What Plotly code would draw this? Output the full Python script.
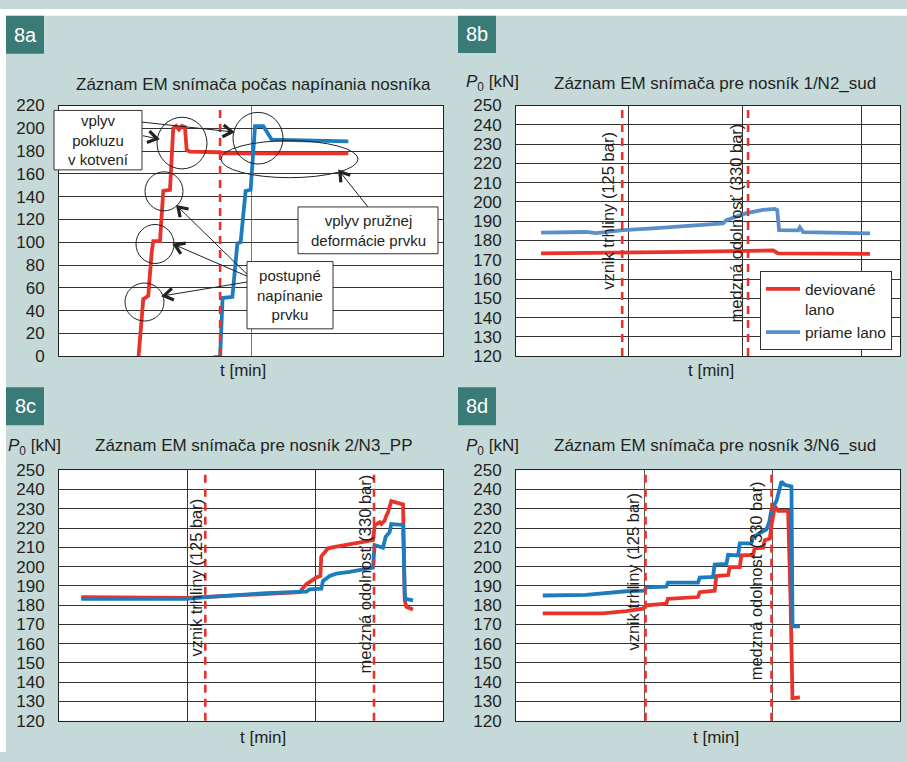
import math
import plotly.graph_objects as go

# ---------------- data ----------------
# 8a: tensioning record (x in arbitrary time units)
a_red_t = [0.366, 0.413, 0.439, 0.465, 0.483, 0.491, 0.526, 0.543, 0.578, 0.595, 0.61, 0.625, 0.64, 0.656, 0.665, 0.682, 0.839, 0.86, 1.507]
a_red_p = [-3, -3, 50, 53, 92, 101, 101, 145, 146, 200, 202, 199, 202, 201, 181, 179.5, 179, 178, 178]
a_blue_t = [0.804, 0.839, 0.852, 0.903, 0.929, 0.946, 0.972, 0.998, 1.021, 1.064, 1.108, 1.255, 1.507]
a_blue_p = [-1, -1, 51, 52, 99, 100, 145, 146, 202, 202, 190, 189.5, 188.5]
a_events = [0.839]

# 8b: beam 1/N2_sud
b_blue_t = [0.222, 0.621, 0.710, 0.947, 1.213, 1.509, 1.834, 1.864, 1.953, 2.041, 2.189, 2.293, 2.314, 2.331, 2.5, 2.515, 2.544, 3.136]
b_blue_p = [184.1, 184.4, 183.8, 185.4, 186.3, 187.4, 188.8, 190.5, 192.2, 194.2, 195.9, 196.4, 195.8, 185.4, 185.2, 186.8, 184.3, 183.7]
b_red_t = [0.222, 0.917, 1.509, 2.278, 2.322, 3.136]
b_red_p = [173.3, 173.6, 174.1, 174.8, 173.3, 173.0]
b_events = [0.941, 2.056]

# 8c: beam 2/N3_PP
c_blue_t = [0.174, 0.995, 1.151, 1.359, 1.620, 1.932, 1.958, 2.049, 2.063, 2.115, 2.167, 2.271, 2.453, 2.466, 2.531, 2.552, 2.583, 2.596, 2.688, 2.701, 2.708, 2.766]
c_blue_p = [183.3, 183.3, 184.2, 185.3, 186.2, 187.0, 188.2, 188.5, 192.6, 195.1, 196.3, 197.3, 199.4, 211.2, 209.8, 215.4, 217.9, 222.1, 221.6, 185.8, 183.3, 182.5]
c_red_t = [0.174, 0.995, 1.880, 1.932, 2.010, 2.042, 2.049, 2.102, 2.167, 2.271, 2.453, 2.466, 2.505, 2.518, 2.544, 2.557, 2.570, 2.596, 2.688, 2.701, 2.714, 2.766]
c_red_p = [184.2, 183.8, 186.7, 190.9, 194.3, 195.1, 205.3, 209.5, 210.3, 211.5, 213.7, 221.3, 223.0, 222.1, 223.8, 226.4, 228.1, 234.0, 232.3, 182.5, 179.1, 177.7]
c_events = [1.143, 2.461]

# 8d: beam 3/N6_sud
d_blue_t = [0.209, 0.548, 0.861, 1.004, 1.017, 1.174, 1.187, 1.422, 1.435, 1.539, 1.552, 1.644, 1.657, 1.735, 1.748, 1.839, 1.852, 1.957, 1.978, 1.996, 2.035, 2.074, 2.100, 2.152, 2.160, 2.165, 2.218]
d_blue_p = [185.0, 185.3, 187.2, 187.5, 189.2, 189.6, 191.7, 191.7, 194.3, 194.6, 201.0, 201.4, 206.1, 205.8, 212.0, 212.0, 215.4, 219.3, 223.0, 229.7, 234.0, 244.1, 242.4, 241.6, 170.6, 169.0, 169.0]
d_red_t = [0.209, 0.678, 0.861, 0.991, 1.017, 1.174, 1.187, 1.422, 1.435, 1.552, 1.565, 1.657, 1.670, 1.748, 1.761, 1.852, 1.865, 1.931, 1.944, 1.983, 1.996, 2.022, 2.048, 2.126, 2.145, 2.160, 2.218]
d_red_p = [175.7, 175.7, 176.9, 178.2, 179.9, 180.8, 183.3, 184.2, 186.7, 187.5, 195.1, 195.6, 199.7, 199.7, 205.8, 206.1, 209.5, 209.8, 213.7, 214.5, 221.3, 231.4, 228.9, 228.9, 182.5, 131.8, 132.2]
d_events = [1.012, 1.996]

titles = ["Záznam EM snímača počas napínania nosníka",
          "Záznam EM snímača pre nosník 1/N2_sud",
          "Záznam EM snímača pre nosník 2/N3_PP",
          "Záznam EM snímača pre nosník 3/N6_sud"]
panel_labels = ["8a", "8b", "8c", "8d"]
legend_names = ["deviované<br>lano", "priame lano"]
event_labels = ["vznik trhliny (125 bar)", "medzná odolnosť (330 bar)"]

# ---------------- layout helpers ----------------
W, H = 907, 762
def fx(px):
    return px / W
def fy(py):
    return 1 - py / H

RED = "#e9332a"
BLUE = "#1b7cc0"
BLUE_B = "#5b8fca"
BG = "#c6d9d9"
TEAL = "#3a7b78"
FONT = "Liberation Sans, Arial, sans-serif"
TXT = "#231f20"

fig = go.Figure()

panels = [
    ("x", "y", (59, 443), (99, 356), [0, 2], [1], [0, 220], 20, "#7a7a7a"),
    ("x2", "y2", (516, 900), (99, 356), [0, 3.402], [1.0, 2.006, 3.062], [120, 250], 10, "#333333"),
    ("x3", "y3", (59, 443), (473, 730), [0, 3], [1, 2], [120, 250], 10, "#333333"),
    ("x4", "y4", (516, 900), (473, 730), [0, 3], [1, 2], [120, 250], 10, "#555555"),
]

for i, (xn, yn, (x0, x1), (y0, y1), xr, vg, yr, dt, vgc) in enumerate(panels):
    xk = "xaxis" if i == 0 else f"xaxis{i+1}"
    yk = "yaxis" if i == 0 else f"yaxis{i+1}"
    fig.layout[xk] = dict(domain=[fx(x0), fx(x1)], range=xr, anchor=yn,
                          tickvals=vg, showticklabels=False, ticks="",
                          showgrid=True, gridcolor=vgc, gridwidth=1,
                          zeroline=False, showline=True, linecolor="#222",
                          linewidth=1, mirror=True, fixedrange=True)
    fig.layout[yk] = dict(domain=[fy(y1), fy(y0)], range=yr, anchor=xn,
                          dtick=dt, tick0=0, showgrid=True, gridcolor="#333333",
                          gridwidth=1, zeroline=False, showline=True,
                          linecolor="#222", linewidth=1, mirror=True, ticks="",
                          tickfont=dict(size=17, color=TXT, family=FONT),
                          ticklabelstandoff=10, fixedrange=True)

def line(xs, ys, color, xa, ya, name=None, show=False):
    fig.add_trace(go.Scatter(x=xs, y=ys, mode="lines", xaxis=xa, yaxis=ya,
                             line=dict(color=color, width=3.8),
                             name=name, showlegend=show, hoverinfo="skip"))

line(a_red_t, a_red_p, RED, "x", "y")
line(a_blue_t, a_blue_p, BLUE, "x", "y")
line(b_red_t, b_red_p, RED, "x2", "y2", legend_names[0], True)
line(b_blue_t, b_blue_p, BLUE_B, "x2", "y2", legend_names[1], True)
line(c_red_t, c_red_p, RED, "x3", "y3")
line(c_blue_t, c_blue_p, BLUE, "x3", "y3")
line(d_red_t, d_red_p, RED, "x4", "y4")
line(d_blue_t, d_blue_p, BLUE, "x4", "y4")

shapes = []
# white frame strips (top and left)
shapes.append(dict(type="rect", xref="paper", yref="paper", x0=0, x1=1, y0=fy(7), y1=1,
                   fillcolor="white", line=dict(width=0), layer="above"))
shapes.append(dict(type="rect", xref="paper", yref="paper", x0=0, x1=fx(6), y0=0, y1=1,
                   fillcolor="white", line=dict(width=0), layer="above"))

# event dashed lines
for evs, xa, ya in [(a_events, "x", "y"), (b_events, "x2", "y2"),
                    (c_events, "x3", "y3"), (d_events, "x4", "y4")]:
    for ev in evs:
        shapes.append(dict(type="line", xref=xa, yref=f"{ya} domain", x0=ev, x1=ev,
                           y0=0, y1=0.99, line=dict(color=RED, width=2.6, dash="8px,6px"),
                           layer="above"))

annotations = []
# panel labels
for lab, (lx0, ly0, lx1, ly1) in zip(panel_labels, [(6, 7, 44, 46), (458, 7, 496, 45),
                                                   (6, 388, 44, 427), (458, 388, 496, 427)]):
    shapes.append(dict(type="rect", xref="paper", yref="paper", x0=fx(lx0), x1=fx(lx1),
                       y0=fy(ly1), y1=fy(ly0), fillcolor=TEAL, line=dict(width=0), layer="above"))
    annotations.append(dict(text=lab, xref="paper", yref="paper", x=fx((lx0 + lx1) / 2),
                            y=fy((ly0 + ly1) / 2), showarrow=False, xanchor="center",
                            yanchor="middle", font=dict(size=20, color="white", family=FONT)))

# titles
for t, (tx, ty) in zip(titles, [(253, 77), (715, 76), (253, 448), (715, 448)]):
    annotations.append(dict(text=t, xref="paper", yref="paper", x=fx(tx), y=fy(ty),
                            showarrow=False, xanchor="center", yanchor="middle",
                            font=dict(size=17, color=TXT, family=FONT)))
# y labels
for (tx, ty) in [(492, 76), (34, 449), (492, 449)]:
    annotations.append(dict(text="<i>P</i><sub>0</sub> [kN]", xref="paper", yref="paper",
                            x=fx(tx), y=fy(ty), showarrow=False, xanchor="center",
                            yanchor="middle", font=dict(size=17, color=TXT, family=FONT)))
# x labels
for (tx, ty) in [(243, 371), (711, 371), (263, 747), (716, 747)]:
    annotations.append(dict(text="t [min]", xref="paper", yref="paper", x=fx(tx), y=fy(ty),
                            showarrow=False, xanchor="center", yanchor="middle",
                            font=dict(size=17, color=TXT, family=FONT)))
# rotated event labels
for txt, (tx, ty) in [(event_labels[0], (608, 207)), (event_labels[1], (736, 220)),
                      (event_labels[0], (196, 583)), (event_labels[1], (365, 580)),
                      (event_labels[0], (633, 577)), (event_labels[1], (756, 587))]:
    annotations.append(dict(text=txt, xref="paper", yref="paper", x=fx(tx), y=fy(ty),
                            showarrow=False, textangle=-90, xanchor="center",
                            yanchor="middle", font=dict(size=16.5, color=TXT, family=FONT)))

# 8a callout boxes
boxes = [((54, 104, 142, 165), "vplyv<br>pokluzu<br>v kotvení"),
         ((298, 203, 438, 251), "vplyv pružnej<br>deformácie prvku"),
         ((247, 259, 333, 328), "postupné<br>napínanie<br>prvku")]
for (bx0, by0, bx1, by1), txt in boxes:
    shapes.append(dict(type="rect", xref="paper", yref="paper", x0=fx(bx0), x1=fx(bx1),
                       y0=fy(by1), y1=fy(by0), fillcolor="white",
                       line=dict(color="#333", width=1), layer="above"))
    annotations.append(dict(text=txt, xref="paper", yref="paper", x=fx((bx0 + bx1) / 2),
                            y=fy((by0 + by1) / 2), showarrow=False, xanchor="center",
                            yanchor="middle", align="center",
                            font=dict(size=15, color=TXT, family=FONT)))

# circles / ellipse
for (cx0, cy0, cx1, cy1) in [(157, 111, 207, 164), (145, 167, 183, 207), (136, 221, 174, 261),
                             (125, 281, 164, 320), (233, 106, 283, 159), (221, 135, 358, 173)]:
    shapes.append(dict(type="circle", xref="paper", yref="paper", x0=fx(cx0), x1=fx(cx1),
                       y0=fy(cy1), y1=fy(cy0), line=dict(color="#222", width=1), layer="above"))

# arrows (tail -> tip): thin shaft plus a bold chevron head
def arrow(tail, tip):
    (tx0, ty0), (hx, hy) = tail, tip
    dx, dy = hx - tx0, hy - ty0
    ln = math.hypot(dx, dy)
    ux, uy = dx / ln, dy / ln
    nx, ny = -uy, ux
    shapes.append(dict(type="line", xref="paper", yref="paper", x0=fx(tx0), y0=fy(ty0),
                       x1=fx(hx - ux * 2), y1=fy(hy - uy * 2),
                       line=dict(color="#222", width=1), layer="above"))
    L, S = 9, 6
    p1 = (hx - ux * L + nx * S, hy - uy * L + ny * S)
    p2 = (hx - ux * L - nx * S, hy - uy * L - ny * S)
    path = (f"M {fx(p1[0])},{fy(p1[1])} L {fx(hx)},{fy(hy)} L {fx(p2[0])},{fy(p2[1])}")
    shapes.append(dict(type="path", xref="paper", yref="paper", path=path,
                       line=dict(color="#222", width=3.2), layer="above"))

for tail, tip in [((142, 116), (232, 126)), ((143, 130), (157, 133)),
                  ((247, 272), (178, 203)), ((247, 274), (175, 242)),
                  ((247, 280), (164, 294)), ((368, 203), (340, 167))]:
    arrow(tail, tip)

fig.update_layout(
    width=W, height=H, margin=dict(l=0, r=0, t=0, b=0),
    paper_bgcolor=BG, plot_bgcolor="white",
    font=dict(family=FONT, color=TXT),
    shapes=shapes, annotations=annotations,
    legend=dict(x=fx(760), y=fy(269), xanchor="left", yanchor="top",
                bgcolor="white", bordercolor="#333", borderwidth=1,
                font=dict(size=15.5, color=TXT, family=FONT), itemwidth=34,
                valign="top", tracegroupgap=0),
)

fig.write_html("out.html", config={"displayModeBar": False},
               post_script="document.body.style.margin='0';document.body.style.overflow='hidden';")
